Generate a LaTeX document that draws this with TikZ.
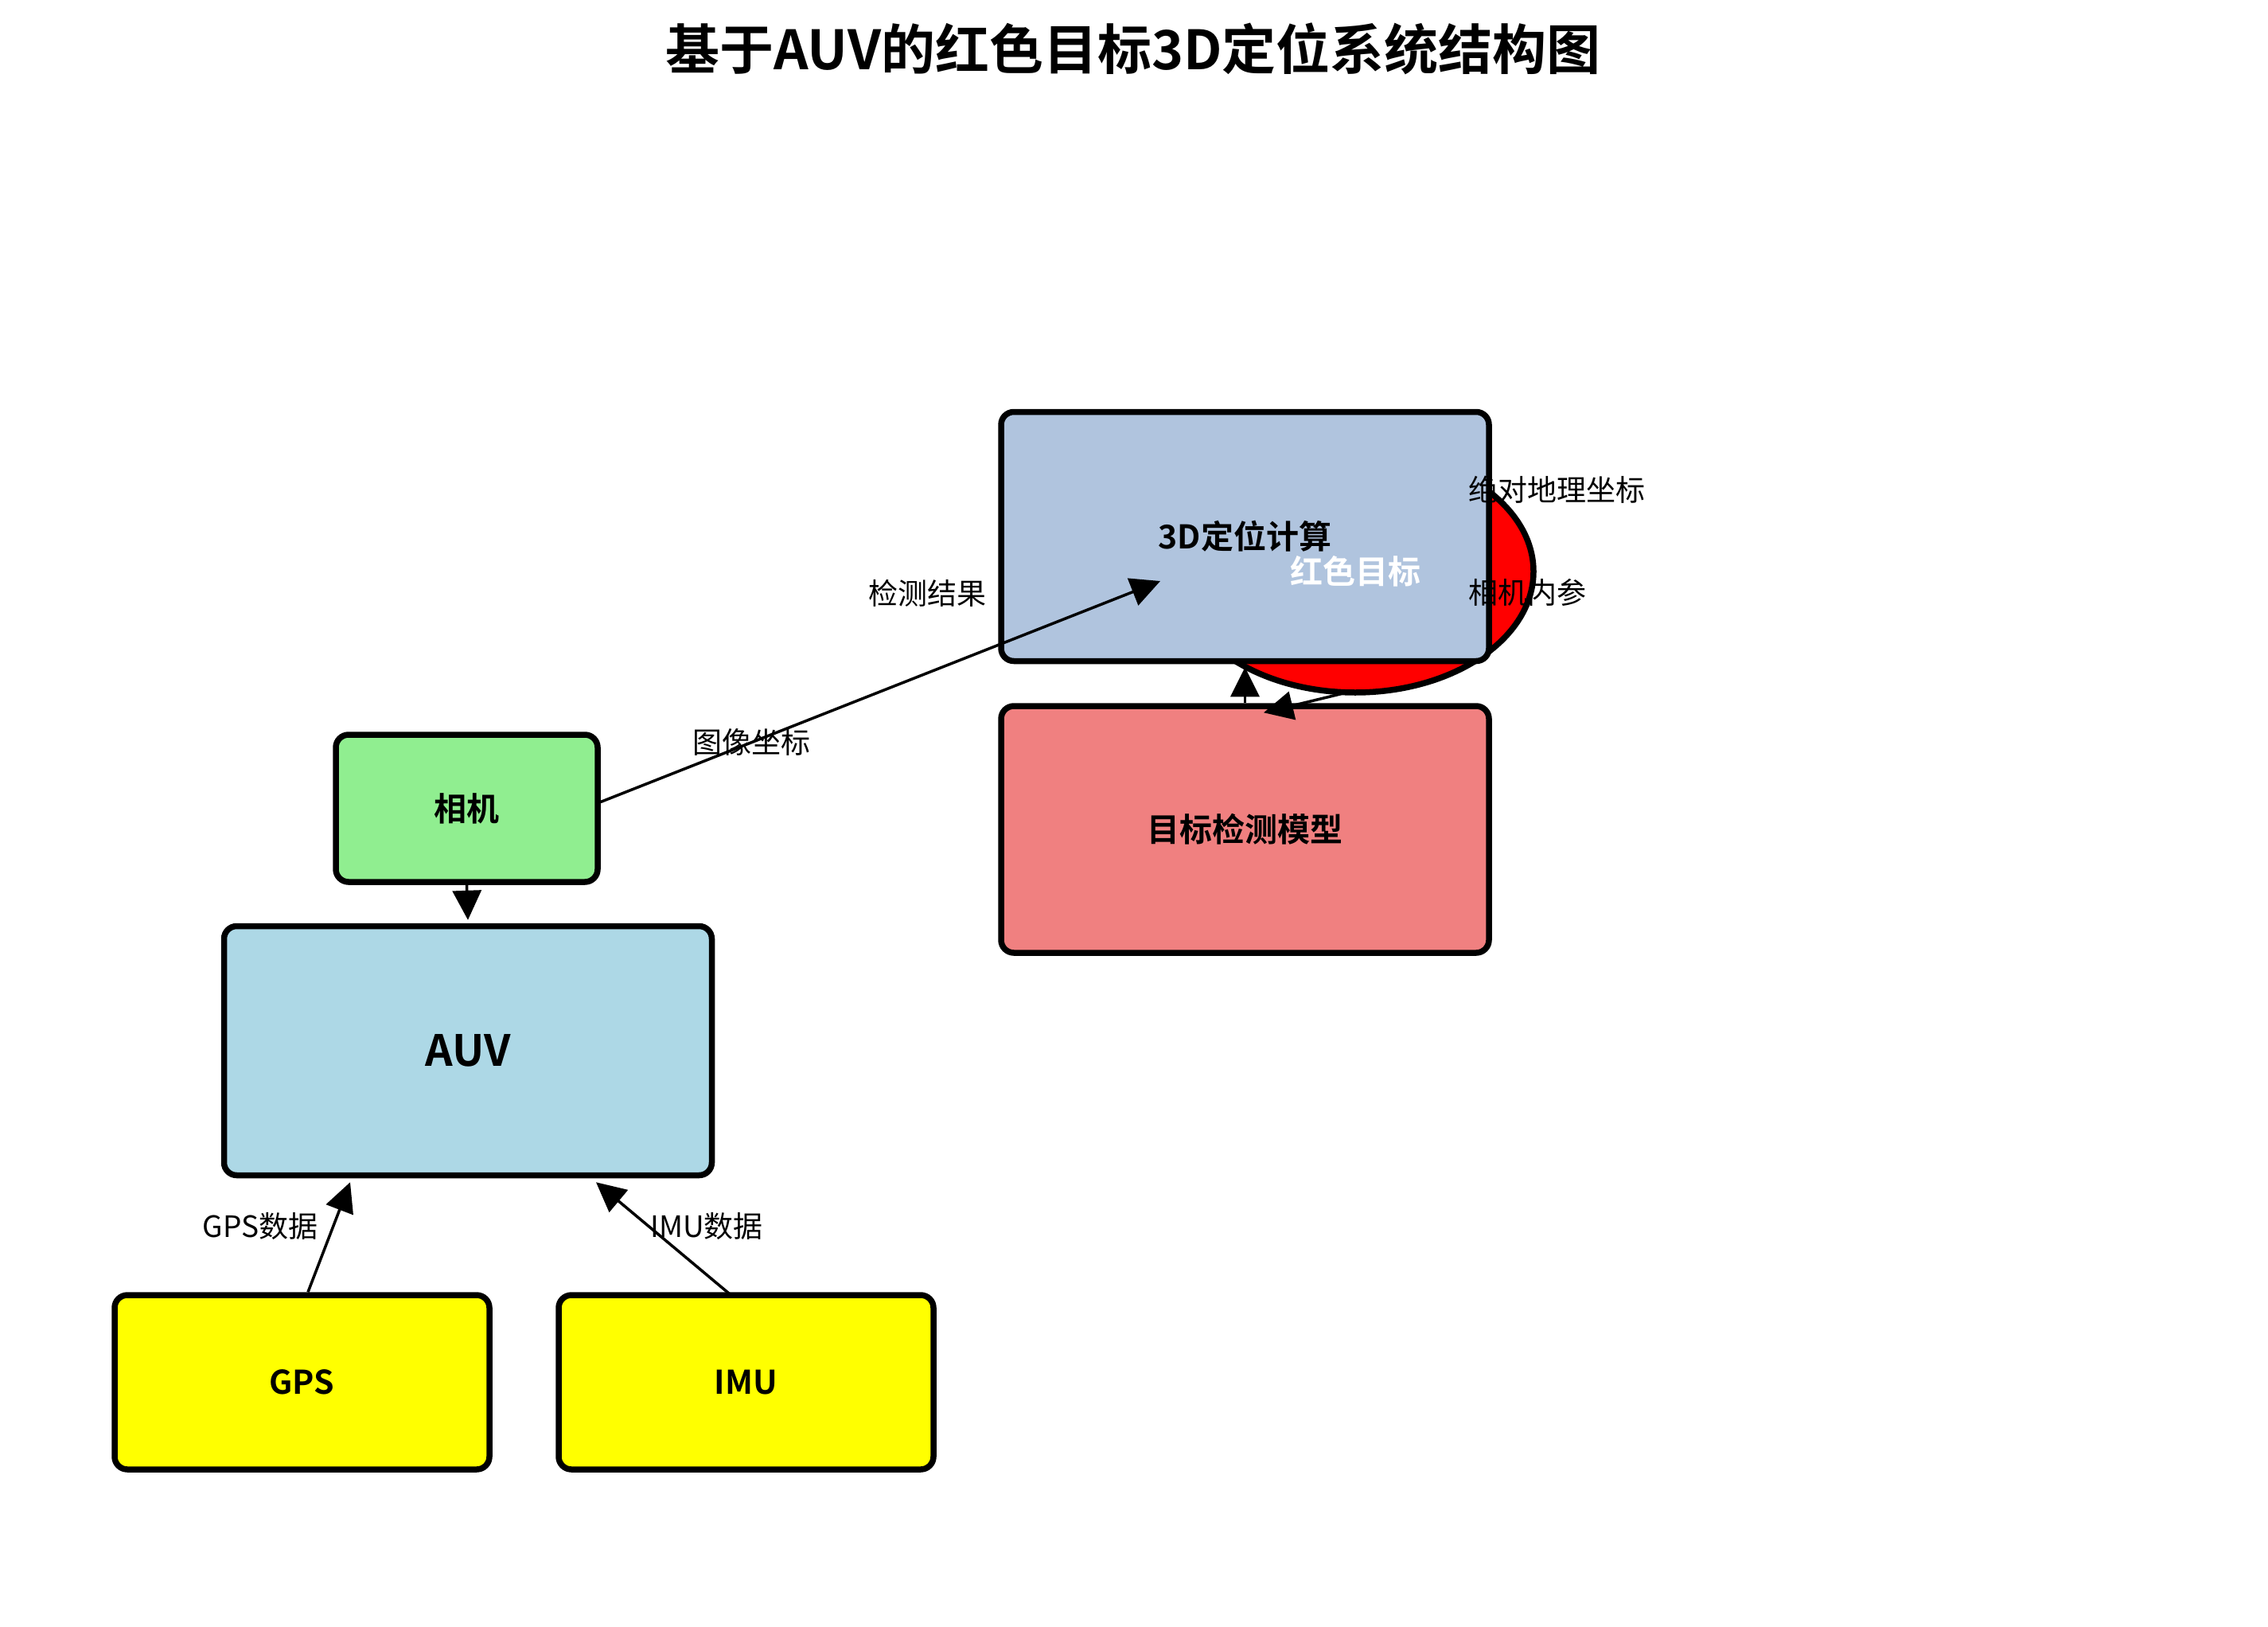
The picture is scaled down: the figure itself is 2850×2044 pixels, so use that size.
\documentclass[tikz,border=0pt]{standalone}
\usepackage{fontspec}
\setmainfont{Noto Sans CJK SC}[BoldFont={Noto Sans CJK SC Bold}]
\usetikzlibrary{arrows.meta,calc,shapes.geometric}
\definecolor{CamGreen}{HTML}{90EE90}
\definecolor{AuvBlue}{HTML}{ADD8E6}
\definecolor{LocSteel}{HTML}{B0C4DE}
\definecolor{DetCoral}{HTML}{F08080}
\definecolor{SensYellow}{HTML}{FFFF00}
\definecolor{TgtRed}{HTML}{FF0000}
\newcommand{\Lbl}{\fontsize{37}{44}\selectfont}
\tikzset{
  unit/.style={draw=black, line width=7.5pt, rounded corners=16pt, align=center,
               inner sep=0pt, font=\fontsize{41}{48}\selectfont\bfseries},
  unitbig/.style={unit, minimum width=613pt, minimum height=313pt},
  unitsens/.style={unit, fill=SensYellow, minimum width=471pt, minimum height=219pt},
  flow/.style={-{Triangle[length=37pt,width=36pt]}, line width=3.5pt, black},
  tag/.style={font=\Lbl, inner sep=0pt},
}

\begin{document}
\begin{tikzpicture}[x=1pt, y=-1pt]
  \useasboundingbox (0,0) rectangle (2850,2044);
  \node[font=\fontsize{68}{78}\selectfont\bfseries] (title) at (1424,61)
    {基于AUV的红色目标3D定位系统结构图};

  \node[ellipse, draw=black, line width=7.5pt, fill=TgtRed, inner sep=0pt,
        minimum width=448pt, minimum height=304pt] (redt) at (1703,718) {};
  \node[unitbig, fill=LocSteel] (loc) at (1564.5,674) {3D定位计算};
  \node[font=\fontsize{41}{48}\selectfont\bfseries, text=white, inner sep=0pt] (redtxt) at (redt) {红色目标};
  \node[unitbig, fill=DetCoral, minimum height=310pt] (det) at (1564.5,1042) {目标检测模型};

  \node[unit, fill=CamGreen, minimum width=329pt, minimum height=185pt] (cam) at (586.5,1015.5) {相机};
  \node[unitbig, fill=AuvBlue, font=\fontsize{54}{62}\selectfont\bfseries] (auv) at (588,1320) {AUV};
  \node[unitsens] (gps) at (379.5,1736.5) {GPS};
  \node[unitsens] (imu) at (937.5,1736.5) {IMU};

  \coordinate (locin) at ($(loc.center)+(-106.5,56)$);
  \coordinate (detin) at ($(det.north)+(23.5,12)$);

  \draw[flow] ([yshift=8pt]cam.east) -- node[tag, pos=0.27] {图像坐标} (locin);
  \draw[flow] (cam.south) -- ([yshift=4pt]auv.north);
  \draw[flow] ([xshift=7.5pt]gps.north) -- ([xshift=-148pt,yshift=-5pt]auv.south);
  \draw[flow] ([xshift=-17.5pt,yshift=-5pt]imu.north) -- ([xshift=161pt,yshift=-5pt]auv.south);
  \draw[flow] (det.north) -- ([yshift=-4pt]loc.south);
  \draw[flow] ([xshift=-18pt,yshift=2pt]redt.south) -- (detin);

  \node[tag] (detres) at (1165,745) {检测结果};
  \node[tag] (gpsdat) at (327,1540) {GPS数据};
  \node[tag] (imudat) at (888,1540) {IMU数据};
  \node[tag, anchor=west] (geo) at (1845,615) {绝对地理坐标};
  \node[tag, anchor=west] (intr) at (1845,744) {相机内参};
\end{tikzpicture}
\end{document}
